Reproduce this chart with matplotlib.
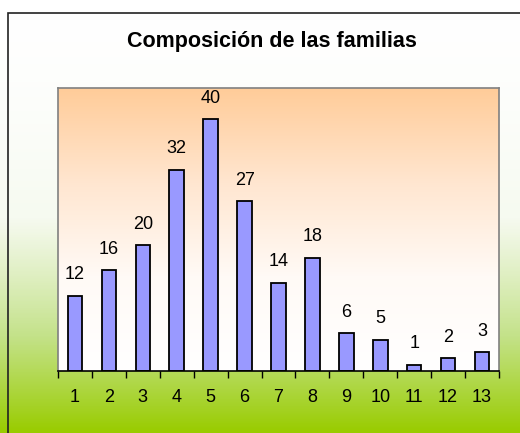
import numpy as np
import matplotlib.pyplot as plt
from matplotlib.colors import LinearSegmentedColormap
from matplotlib.patches import Rectangle

plt.rcParams['font.family'] = ['Liberation Sans', 'DejaVu Sans']

# data
categorias = ['1', '2', '3', '4', '5', '6', '7', '8', '9', '10', '11', '12', '13']
familias = [12, 16, 20, 32, 40, 27, 14, 18, 6, 5, 1, 2, 3]

fig = plt.figure(figsize=(5.2, 4.33), dpi=100)

# outer background: white at top fading into green
bg = fig.add_axes([0, 0, 1, 1], zorder=0)
green = LinearSegmentedColormap.from_list('g', ['#ffffff', '#f6faf0', '#c4e28a', '#99cc00'],)
grad = np.linspace(0, 1, 256) ** 1.6
bg.imshow(grad.reshape(-1, 1), aspect='auto', cmap=green, extent=[0, 1, 0, 1], origin='upper')
bg.set_xlim(0, 1)
bg.set_ylim(0, 1)
bg.axis('off')
fig.patches.append(Rectangle((8 / 520, -0.01), 1.1, (433 - 13) / 433 + 0.01,
                             transform=fig.transFigure, fill=False,
                             edgecolor='#222222', linewidth=1.2, zorder=5))

fig.text(272 / 520, 1 - 42 / 433, 'Composición de las familias', ha='center', va='center',
         fontsize=15.5, fontweight='bold')

ax = fig.add_axes([58 / 520, 1 - 371 / 433, (499 - 58) / 520, (371 - 88) / 433], zorder=1)
x = np.arange(len(familias))
ax.set_xlim(-0.5, len(familias) - 0.5)
ax.set_ylim(0, 45)

# plot area: orange at top fading to white
orange = LinearSegmentedColormap.from_list('o', ['#ffcc99', '#ffe6d0', '#fffaf6', '#ffffff'])
ax.imshow(np.linspace(0, 1, 256).reshape(-1, 1), aspect='auto', cmap=orange,
          extent=[-0.5, len(familias) - 0.5, 0, 45], origin='upper', zorder=0)

bars = ax.bar(x, familias, width=0.43, color='#9999ff', edgecolor='black', linewidth=1.3, zorder=2)
for b, v in zip(bars, familias):
    ax.annotate(str(v), (b.get_x() + b.get_width() / 2, v), xytext=(0, 9),
                textcoords='offset points', ha='center', va='bottom', fontsize=13)

ax.set_xticks(x)
ax.set_xticklabels(categorias, fontsize=13)
ax.tick_params(axis='x', length=0, pad=13)
ax.set_xticks(np.arange(-0.5, len(familias)), minor=True)
ax.tick_params(axis='x', which='minor', length=5, width=1, direction='out', color='black')
ax.set_yticks([])
for s in ['top', 'left', 'right']:
    ax.spines[s].set_color('#808080')
    ax.spines[s].set_linewidth(1.2)
ax.spines['bottom'].set_color('black')
ax.spines['bottom'].set_linewidth(1.2)

fig.savefig('out.png', dpi=100)
